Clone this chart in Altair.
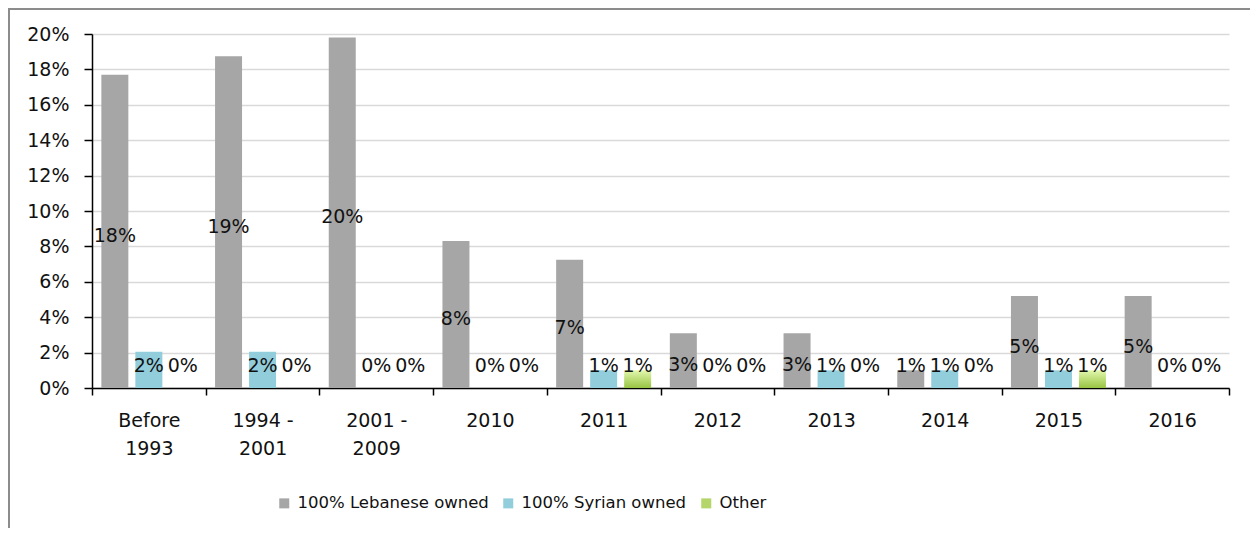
import altair as alt
import pandas as pd

categories = ["Before\n1993", "1994 -\n2001", "2001 -\n2009", "2010", "2011",
              "2012", "2013", "2014", "2015", "2016"]
series = ["100% Lebanese owned", "100% Syrian owned", "Other"]
lebanese = [17.7, 18.75, 19.8, 8.3, 7.25, 3.1, 3.1, 1.0, 5.2, 5.2]
syrian = [2.05, 2.05, 0.0, 0.0, 1.0, 0.0, 1.0, 1.0, 1.0, 0.0]
other = [0.0, 0.0, 0.0, 0.0, 1.0, 0.0, 0.0, 0.0, 1.0, 0.0]
colors = ["#a6a6a6", "#92cddc", "#b3d56a"]
y_ticks = list(range(0, 21, 2))

rows = []
for name, vals in zip(series, [lebanese, syrian, other]):
    for c, v in zip(categories, vals):
        rows.append({"category": c, "series": name, "value": v})
df = pd.DataFrame(rows)

FONT = "Century Gothic, DejaVu Sans, sans-serif"
FS = 19
W, H = 1137, 354
PL, PT, PR, PB = 84, 26, 21, 140

x_axis = alt.Axis(title=None, tickBand="extent", tickSize=7, tickColor="black",
                  tickWidth=1.5, domainColor="black", domainWidth=1.5,
                  labelAngle=0, labelExpr="split(datum.label, '\\n')",
                  labelFontSize=FS, labelFont=FONT, labelColor="#111111",
                  labelPadding=16, labelLineHeight=28, grid=False,
                  labelOverlap=False, labelLimit=0)
y_axis = alt.Axis(title=None, values=y_ticks,
                  labelExpr="datum.value + '%'",
                  tickSize=8, tickColor="black", tickWidth=1.5,
                  domainColor="black", domainWidth=1.5,
                  labelFontSize=FS, labelFont=FONT, labelColor="#111111",
                  labelPadding=15, grid=True, gridColor="#d9d9d9",
                  gridWidth=1.5, labelOverlap=False)
x_scale = alt.Scale(paddingInner=0, paddingOuter=0)
y_scale = alt.Scale(domain=[0, 20], nice=False)
xo_enc = alt.XOffset("series:N", sort=series,
                     scale=alt.Scale(paddingInner=0.206, paddingOuter=0.275))

gradient = {
    "gradient": "linear", "x1": 0, "y1": 0, "x2": 0, "y2": 1,
    "stops": [{"offset": 0, "color": "#e2f7ad"},
              {"offset": 1, "color": "#98c443"}],
}

bars = alt.Chart(df).mark_bar().encode(
    x=alt.X("category:N", sort=categories, scale=x_scale, axis=x_axis),
    xOffset=xo_enc,
    y=alt.Y("value:Q", scale=y_scale, axis=y_axis),
    color=alt.when(alt.datum.series == "Other").then(alt.value(gradient)).otherwise(
        alt.Color("series:N", sort=series,
                  scale=alt.Scale(domain=series, range=colors),
                  legend=alt.Legend(title=None, orient="none", legendX=184,
                                    legendY=461, direction="horizontal",
                                    symbolType="square", symbolSize=100,
                                    symbolStrokeWidth=0, labelFontSize=16.5,
                                    labelFont=FONT, labelColor="#111111",
                                    columnPadding=11, labelOffset=5,
                                    labelLimit=0))
    ),
)

labels = alt.Chart(df).transform_calculate(
    ly="max(datum.value / 2 - 0.15, 1.35)",
    txt="format(datum.value, '.0f') + '%'",
).mark_text(fontSize=FS, font=FONT, color="#111111", baseline="middle",
            dy=2).encode(
    x=alt.X("category:N", sort=categories, scale=x_scale, axis=x_axis),
    xOffset=xo_enc,
    y=alt.Y("ly:Q", scale=y_scale, axis=y_axis),
    text="txt:N",
)

one = pd.DataFrame({"k": [0]})
top_border = alt.Chart(one).mark_rule(color="#8c8c8c", strokeWidth=2).encode(
    x=alt.value(-PL), x2=alt.value(W + PR), y=alt.value(-PT + 1))
left_border = alt.Chart(one).mark_rule(color="#8c8c8c", strokeWidth=2).encode(
    x=alt.value(-PL + 1), y=alt.value(-PT), y2=alt.value(H + PB))

chart = alt.layer(bars, labels, top_border, left_border).properties(
    width=W, height=H,
    padding={"left": PL, "top": PT, "right": PR, "bottom": PB},
    autosize=alt.AutoSizeParams(type="none"),
).configure_view(stroke=None)

chart.save("out.html", embed_options={"renderer": "svg", "actions": False})
